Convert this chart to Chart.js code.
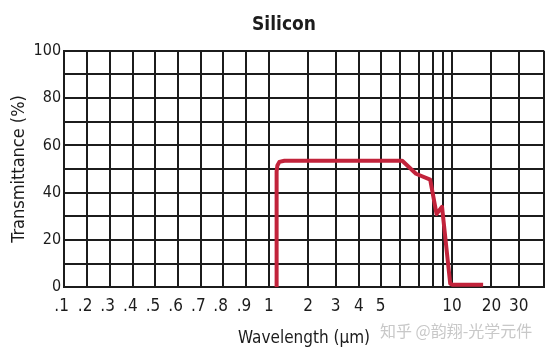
<!DOCTYPE html>
<html>
<head>
<meta charset="utf-8">
<script src="https://cdn.jsdelivr.net/npm/chart.js@4/dist/chart.umd.min.js"></script>
<style>
  html, body { margin: 0; padding: 0; background: #ffffff; }
  #wrap { position: relative; width: 550px; height: 356px; }
</style>
</head>
<body>
<div id="wrap"><canvas id="c"></canvas></div>
<script>
// ---- data ----
const wavelengthUm = [1.2, 1.2, 1.22, 1.27, 1.4, 6.1, 6.85, 7.8, 8.35, 8.9, 9.8, 10.2, 17.9];
const transmittance = [0, 49, 51.5, 53, 53.5, 53.5, 48, 45.5, 31, 34, 1.5, 1.0, 1.0];

// x-axis grid wavelengths and their labels
const gridWavelengths = [0.1, 0.2, 0.3, 0.4, 0.5, 0.6, 0.7, 0.8, 0.9, 1, 2, 3, 4, 5, 6, 7, 8, 9, 10, 20, 30, 40];
const gridLabels = ['.1', '.2', '.3', '.4', '.5', '.6', '.7', '.8', '.9', '1', '2', '3', '4', '5', '', '', '', '', '10', '20', '30', ''];
// relative position of each grid wavelength along the printed axis (0 = left edge, 1 = right edge)
const gridFractions = [0, 0.0488, 0.0958, 0.1431, 0.1904, 0.2375, 0.2848, 0.3313, 0.3800, 0.4265,
                       0.5083, 0.5660, 0.6140, 0.6598, 0.7008, 0.7390, 0.7688, 0.7896, 0.8083, 0.8904, 0.9473, 1];

const yTicks = [0, 10, 20, 30, 40, 50, 60, 70, 80, 90, 100];
const yLabels = ['0', '', '20', '', '40', '', '60', '', '80', '', '100'];

// ---- custom piecewise wavelength scale (the printed chart's own non-uniform axis) ----
function wlToFrac(v) {
  const b = gridWavelengths, f = gridFractions;
  if (v <= b[0]) return f[0];
  for (let i = 1; i < b.length; i++) {
    if (v <= b[i]) return f[i - 1] + (v - b[i - 1]) / (b[i] - b[i - 1]) * (f[i] - f[i - 1]);
  }
  return f[f.length - 1];
}
function fracToWl(u) {
  const b = gridWavelengths, f = gridFractions;
  if (u <= f[0]) return b[0];
  for (let i = 1; i < f.length; i++) {
    if (u <= f[i]) return b[i - 1] + (u - f[i - 1]) / (f[i] - f[i - 1]) * (b[i] - b[i - 1]);
  }
  return b[b.length - 1];
}
class WaveScale extends Chart.LinearScale {
  buildTicks() {
    this.min = gridWavelengths[0];
    this.max = gridWavelengths[gridWavelengths.length - 1];
    return gridWavelengths.map(v => ({ value: v }));
  }
  getPixelForValue(v) { return this.getPixelForDecimal(wlToFrac(v)); }
  getValueForPixel(p) { return fracToWl(this.getDecimalForPixel(p)); }
}
WaveScale.id = 'wave';
WaveScale.defaults = {};
Chart.register(WaveScale);

const FONT = '"DejaVu Sans Condensed", "Liberation Sans Narrow", "Liberation Sans", sans-serif';
const INK = '#1c1c1c';

const titleShift = {
  id: 'titleShift',
  afterLayout(chart) {
    const t = chart.titleBlock;
    if (t) { t.left += 11.5; t.right += 11.5; }
  }
};
const watermark = {
  id: 'watermark',
  afterDraw(chart) {
    const ctx = chart.ctx;
    ctx.save();
    ctx.font = '16px "Noto Sans CJK SC", sans-serif';
    ctx.fillStyle = '#c8c8c8';
    ctx.textAlign = 'left';
    ctx.textBaseline = 'middle';
    ctx.fillText('知乎 @韵翔-光学元件', 380, 331);
    ctx.restore();
  }
};

new Chart(document.getElementById('c'), {
  type: 'scatter',
  data: {
    datasets: [{
      data: wavelengthUm.map((x, i) => ({ x: x, y: transmittance[i] })),
      showLine: true,
      borderColor: '#c2233b',
      borderWidth: 4,
      borderJoinStyle: 'round',
      pointRadius: 0,
      tension: 0,
      fill: false
    }]
  },
  options: {
    responsive: true,
    maintainAspectRatio: false,
    animation: false,
    layout: { padding: { left: 1, right: 6, top: 0, bottom: 4 } },
    plugins: {
      legend: { display: false },
      tooltip: { enabled: false },
      title: {
        display: true,
        text: 'Silicon',
        color: INK,
        font: { family: FONT, size: 19, weight: 'bold' },
        padding: { top: 14, bottom: 14 }
      }
    },
    scales: {
      x: {
        type: 'wave',
        min: 0.1,
        max: 40,
        grid: { color: INK, lineWidth: 2, drawTicks: true, tickLength: 9, tickColor: 'rgba(0,0,0,0)' },
        border: { display: true, color: INK, width: 2 },
        ticks: {
          autoSkip: false,
          maxRotation: 0,
          padding: 0,
          color: INK,
          font: { family: FONT, size: 17 },
          callback: (v, i) => gridLabels[i] + (gridLabels[i].startsWith('.') ? ' ' : '')
        },
        title: {
          display: true,
          text: 'Wavelength (µm)',
          color: INK,
          font: { family: FONT, size: 17 },
          padding: { top: 12, bottom: 3 }
        }
      },
      y: {
        min: 0,
        max: 100,
        afterBuildTicks: (axis) => { axis.ticks = yTicks.map(v => ({ value: v })); },
        grid: { color: INK, lineWidth: 2, drawTicks: false },
        border: { display: true, color: INK, width: 2 },
        ticks: {
          autoSkip: false,
          padding: 3,
          color: INK,
          font: { family: FONT, size: 16 },
          callback: (v, i) => yLabels[i]
        },
        title: {
          display: true,
          text: 'Transmittance (%)',
          color: INK,
          font: { family: FONT, size: 18 },
          padding: { top: 8, bottom: 0 }
        }
      }
    }
  },
  plugins: [titleShift, watermark]
});
</script>
</body>
</html>
